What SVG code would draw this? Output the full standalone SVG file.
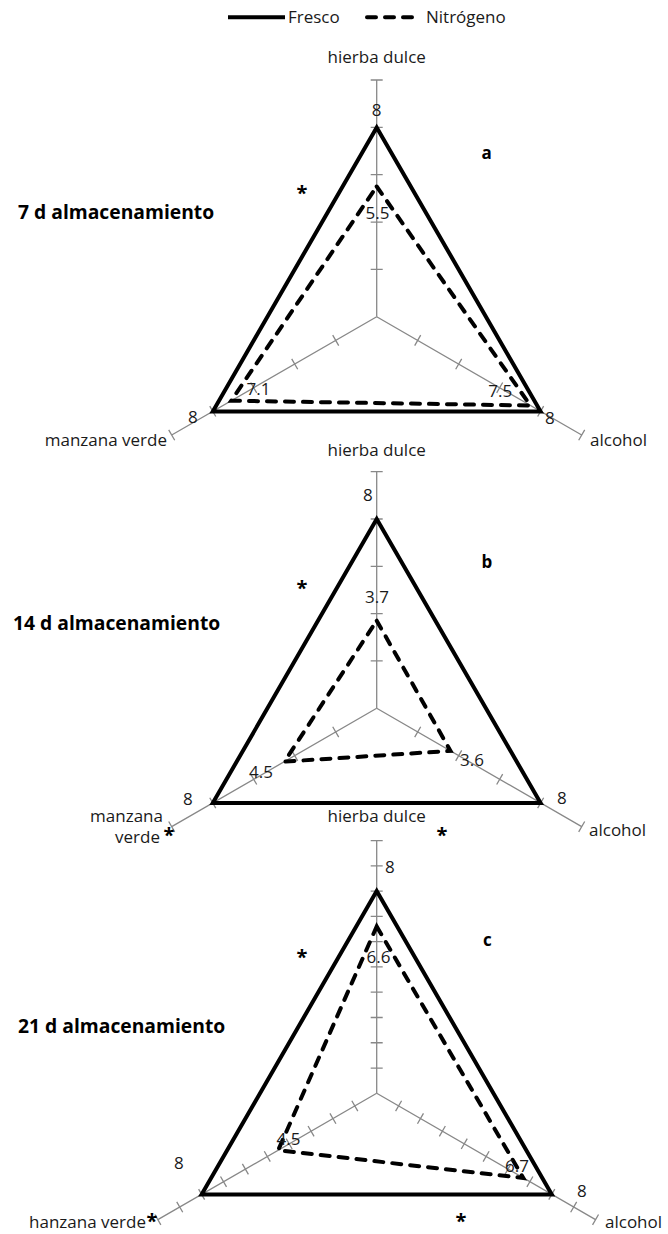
<svg xmlns="http://www.w3.org/2000/svg" width="668" height="1234" viewBox="0 0 668 1234">
<style>
text{font-family:"Open Sans","Liberation Sans",sans-serif;font-size:17px;fill:#1a1a1a}
.b{font-weight:bold;fill:#000}
.t{font-size:19.3px}
.s{font-size:20px}
.m{text-anchor:middle}
.e{text-anchor:end}
.ax{stroke:#888;stroke-width:1.3;fill:none}
.fr{stroke:#000;stroke-width:4;fill:none}
.ni{stroke:#000;stroke-width:4;fill:none;stroke-dasharray:9 9;stroke-linecap:round}
</style>
<defs>
<g id="axAB" class="ax"><path d="M0 0H236.7M47.33 -6V6M94.67 -6V6M142 -6V6M189.3 -6V6M236.7 -6V6"/></g>
<g id="axC" class="ax"><path d="M0 0H252.7M25.27 -6V6M50.54 -6V6M75.81 -6V6M101.08 -6V6M126.35 -6V6M151.62 -6V6M176.89 -6V6M202.16 -6V6M227.43 -6V6M252.7 -6V6"/></g>
</defs>
<rect width="668" height="1234" fill="#fff"/>
<g id="legend">
<path class="fr" d="M228 17.3H285"/>
<text x="288" y="23">Fresco</text>
<path class="ni" d="M367 17.3H412"/>
<text x="426" y="23">Nitrógeno</text>
</g>
<g id="chart-a">
<g transform="translate(376.7 316.7)">
<use href="#axAB" transform="rotate(-90)"/>
<use href="#axAB" transform="rotate(30)"/>
<use href="#axAB" transform="rotate(150)"/>
</g>
<path class="fr" d="M376.7 127.4L540.6 411.4L212.8 411.4Z"/>
<path class="ni" d="M376.7 186.5L530.4 405.5L231.2 400.7Z"/>
<text class="m" x="376.7" y="63">hierba dulce</text>
<text class="m" x="376.7" y="116">8</text>
<text x="365.5" y="219">5.5</text>
<text x="246.5" y="395">7.1</text>
<text x="488.3" y="397">7.5</text>
<text x="188" y="423">8</text>
<text x="545" y="424">8</text>
<text class="e" x="167" y="446">manzana verde</text>
<text x="590" y="446">alcohol</text>
<text class="b" x="481.5" y="159">a</text>
<text class="b s m" x="302" y="200">*</text>
<text class="b t" x="18" y="219">7 d almacenamiento</text>
</g>
<g id="chart-b">
<g transform="translate(376.7 708.3)">
<use href="#axAB" transform="rotate(-90)"/>
<use href="#axAB" transform="rotate(30)"/>
<use href="#axAB" transform="rotate(150)"/>
</g>
<path class="fr" d="M376.7 519L540.6 803L212.8 803Z"/>
<path class="ni" d="M376.7 620.7L450.5 750.9L284.5 761.6Z"/>
<text class="m" x="376.7" y="456">hierba dulce</text>
<text x="363" y="501">8</text>
<text x="365" y="603">3.7</text>
<text x="249" y="778">4.5</text>
<text x="460" y="766">3.6</text>
<text x="183" y="805">8</text>
<text x="557" y="804">8</text>
<text class="e" x="163" y="822">manzana</text>
<text class="e" x="160" y="843">verde</text>
<text x="589" y="836">alcohol</text>
<text class="b" x="481.5" y="568">b</text>
<text class="b s m" x="302" y="595">*</text>
<text class="b s m" x="169" y="842">*</text>
<text class="b s m" x="442" y="842">*</text>
<text class="b t" x="13" y="630">14 d almacenamiento</text>
</g>
<g id="chart-c">
<g transform="translate(376.7 1093.3)">
<use href="#axC" transform="rotate(-90)"/>
<use href="#axC" transform="rotate(30)"/>
<use href="#axC" transform="rotate(150)"/>
</g>
<path class="fr" d="M376.7 891.1L551.8 1194.4L201.6 1194.4Z"/>
<path class="ni" d="M376.7 926.5L523.3 1178L278.2 1150.2Z"/>
<text class="m" x="376.7" y="822">hierba dulce</text>
<text x="385" y="873">8</text>
<text x="366.5" y="963">6.6</text>
<text x="276.5" y="1145">4.5</text>
<text x="505" y="1172">6.7</text>
<text x="174" y="1169">8</text>
<text x="577" y="1197">8</text>
<text class="e" x="146" y="1228">hanzana verde</text>
<text x="605" y="1228">alcohol</text>
<text class="b" x="483" y="946">c</text>
<text class="b s m" x="302" y="964">*</text>
<text class="b s m" x="152" y="1228">*</text>
<text class="b s m" x="461" y="1228">*</text>
<text class="b t" x="18" y="1033">21 d almacenamiento</text>
</g>
</svg>
